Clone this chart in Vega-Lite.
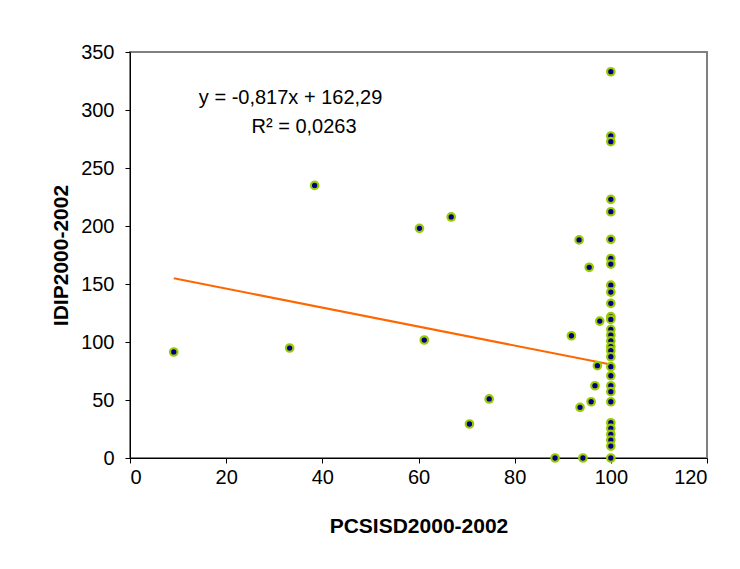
{
  "$schema": "https://vega.github.io/schema/vega-lite/v6.json",
  "width": 577,
  "height": 406,
  "autosize": {"type": "none"},
  "padding": {"left": 130, "top": 52, "right": 33, "bottom": 111},
  "background": "white",
  "config": {
    "font": "Liberation Sans",
    "view": {"stroke": "#808080", "strokeWidth": 2},
    "axis": {
      "grid": false,
      "domainColor": "black",
      "tickColor": "black",
      "tickSize": 5,
      "labelFont": "Liberation Sans",
      "labelFontSize": 20,
      "labelColor": "black",
      "titleFont": "Liberation Sans",
      "titleFontSize": 21,
      "titleFontWeight": "bold",
      "titleColor": "black"
    }
  },
  "datasets": {
    "pts": [
      {"x": 9.1, "y": 91.4}, {"x": 33.2, "y": 94.8}, {"x": 38.4, "y": 235},
      {"x": 60.2, "y": 198}, {"x": 66.8, "y": 207.8}, {"x": 61.2, "y": 101.7},
      {"x": 70.6, "y": 29.3}, {"x": 74.7, "y": 50.9}, {"x": 88.4, "y": 0},
      {"x": 94.2, "y": 0}, {"x": 91.8, "y": 105.4}, {"x": 93.4, "y": 188},
      {"x": 95.5, "y": 164.4}, {"x": 97.7, "y": 118}, {"x": 97.2, "y": 79.6},
      {"x": 96.7, "y": 62.3}, {"x": 95.9, "y": 48.5}, {"x": 93.6, "y": 43.7},
      {"x": 100, "y": 333}, {"x": 100, "y": 277.6}, {"x": 100, "y": 272.7},
      {"x": 100, "y": 223}, {"x": 100, "y": 212.3}, {"x": 100, "y": 188.5},
      {"x": 100, "y": 172}, {"x": 100, "y": 167.2}, {"x": 100, "y": 149},
      {"x": 100, "y": 143}, {"x": 100, "y": 133.3}, {"x": 100, "y": 121.8},
      {"x": 100, "y": 119.5}, {"x": 100, "y": 110.9}, {"x": 100, "y": 106},
      {"x": 100, "y": 100.9}, {"x": 100, "y": 96}, {"x": 100, "y": 92.5},
      {"x": 100, "y": 87.3}, {"x": 100, "y": 78.7}, {"x": 100, "y": 70.9},
      {"x": 100, "y": 62.3}, {"x": 100, "y": 57.2}, {"x": 100, "y": 48.5},
      {"x": 100, "y": 30.4}, {"x": 100, "y": 25.6}, {"x": 100, "y": 20.4},
      {"x": 100, "y": 15.5}, {"x": 100, "y": 10.3}, {"x": 100, "y": 0}
    ],
    "trend": [{"x": 9.1, "y": 154.9}, {"x": 100, "y": 80.6}],
    "labels": [
      {"x": 33.4, "y": 310, "t": "y = -0,817x + 162,29"},
      {"x": 36.2, "y": 285, "t": "R² = 0,0263"}
    ]
  },
  "layer": [
    {
      "data": {"name": "trend"},
      "mark": {"type": "line", "color": "#FF6600", "strokeWidth": 2},
      "encoding": {
        "x": {"field": "x", "type": "quantitative", "scale": {"domain": [0, 120]}, "axis": {"values": [0, 20, 40, 60, 80, 100, 120], "title": "PCSISD2000-2002", "titlePadding": 28, "labelPadding": 4}},
        "y": {"field": "y", "type": "quantitative", "scale": {"domain": [0, 350]}, "axis": {"values": [0, 50, 100, 150, 200, 250, 300, 350], "title": "IDIP2000-2002", "titlePadding": 9, "labelPadding": 11}}
      }
    },
    {
      "data": {"name": "pts"},
      "mark": {"type": "point", "shape": "circle", "filled": true, "fill": "#000080", "stroke": "#99CC00", "strokeWidth": 2.2, "size": 56, "opacity": 1, "clip": false},
      "encoding": {
        "x": {"field": "x", "type": "quantitative"},
        "y": {"field": "y", "type": "quantitative"}
      }
    },
    {
      "data": {"name": "labels"},
      "mark": {"type": "text", "fontSize": 20, "font": "Liberation Sans", "color": "black"},
      "encoding": {
        "x": {"field": "x", "type": "quantitative"},
        "y": {"field": "y", "type": "quantitative"},
        "text": {"field": "t"}
      }
    }
  ]
}
